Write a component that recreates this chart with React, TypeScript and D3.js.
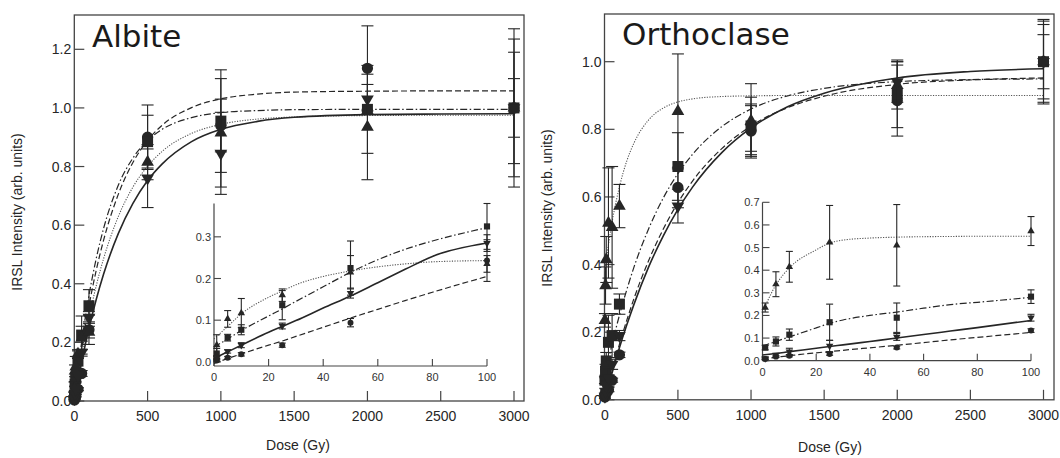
import React from 'react';
import * as d3 from 'd3';

// ---------- data ----------
const doses = [1, 5, 10, 25, 50, 100, 500, 1000, 2000, 3000];

// Albite measured points
const albCircle = [0.003, 0.010, 0.018, 0.040, 0.094, 0.243, 0.900, 0.940, 1.135, 1.000];
const albCircleErr = [0.003, 0.003, 0.004, 0.005, 0.010, 0.050, 0.110, 0.090, 0.145, 0.235];
const albSquare = [0.020, 0.058, 0.077, 0.136, 0.225, 0.325, 0.885, 0.955, 0.995, 1.000];
const albSquareErr = [0.012, 0.008, 0.012, 0.035, 0.065, 0.055, 0.090, 0.175, 0.150, 0.270];
const albUp = [0.040, 0.103, 0.117, 0.160, 0.215, 0.235, 0.815, 0.915, 0.935, 1.000];
const albUpErr = [0.025, 0.020, 0.035, 0.015, 0.040, 0.020, 0.060, 0.185, 0.180, 0.190];
const albDown = [0.008, 0.025, 0.040, 0.086, 0.165, 0.285, 0.760, 0.845, 1.030, 1.000];
const albDownErr = [0.004, 0.004, 0.006, 0.007, 0.012, 0.020, 0.100, 0.140, 0.050, 0.100];

// Orthoclase measured points
const ortCircle = [0.008, 0.018, 0.022, 0.030, 0.058, 0.133, 0.628, 0.795, 0.885, 1.000];
const ortCircleErr = [0.003, 0.004, 0.005, 0.006, 0.006, 0.008, 0.060, 0.075, 0.105, 0.110];
const ortSquare = [0.058, 0.085, 0.115, 0.170, 0.190, 0.283, 0.690, 0.810, 0.905, 1.000];
const ortSquareErr = [0.010, 0.020, 0.025, 0.080, 0.065, 0.030, 0.100, 0.085, 0.100, 0.120];
const ortUp = [0.235, 0.338, 0.415, 0.523, 0.510, 0.573, 0.853, 0.825, 0.930, 1.000];
const ortUpErr = [0.020, 0.055, 0.068, 0.163, 0.180, 0.064, 0.170, 0.110, 0.070, 0.125];
const ortDown = [0.010, 0.025, 0.040, 0.065, 0.105, 0.190, 0.573, 0.805, 0.940, 1.000];
const ortDownErr = [0.005, 0.008, 0.015, 0.025, 0.015, 0.015, 0.050, 0.070, 0.060, 0.080];

// fitted curves, main panels
const fitDoses = [0, 25, 50, 100, 150, 200, 300, 400, 500, 600, 800, 1000, 1250, 1500, 2000, 2500, 3000];
const albFitSolid = [0, 0.069, 0.133, 0.248, 0.347, 0.433, 0.571, 0.674, 0.752, 0.809, 0.885, 0.927, 0.954, 0.968, 0.977, 0.979, 0.980];
const albFitDashed = [0, 0.093, 0.177, 0.324, 0.447, 0.549, 0.705, 0.814, 0.889, 0.941, 1.001, 1.031, 1.047, 1.054, 1.057, 1.058, 1.058];
const albFitDashDot = [0, 0.105, 0.200, 0.360, 0.487, 0.589, 0.736, 0.829, 0.889, 0.927, 0.967, 0.984, 0.991, 0.994, 0.995, 0.995, 0.995];
const albFitDotted = [0, 0.081, 0.154, 0.284, 0.394, 0.486, 0.629, 0.730, 0.801, 0.852, 0.913, 0.944, 0.962, 0.969, 0.974, 0.975, 0.975];

const ortFitSolid = [0, 0.041, 0.080, 0.154, 0.221, 0.283, 0.393, 0.485, 0.563, 0.629, 0.731, 0.804, 0.867, 0.907, 0.952, 0.971, 0.979];
const ortFitDashed = [0, 0.044, 0.086, 0.164, 0.235, 0.300, 0.412, 0.505, 0.583, 0.647, 0.743, 0.810, 0.864, 0.898, 0.933, 0.946, 0.952];
const ortFitDashDot = [0.070, 0.119, 0.165, 0.250, 0.325, 0.393, 0.506, 0.597, 0.669, 0.726, 0.808, 0.860, 0.899, 0.921, 0.941, 0.947, 0.949];
const ortFitDotted = [0.380, 0.459, 0.526, 0.630, 0.706, 0.760, 0.828, 0.863, 0.881, 0.890, 0.897, 0.899, 0.900, 0.900, 0.900, 0.900, 0.900];

// fitted curves, insets
const insetDoses = [0, 5, 10, 20, 25, 30, 40, 50, 60, 70, 80, 100];
const albInDotted = [0.055, 0.085, 0.115, 0.155, 0.170, 0.185, 0.205, 0.218, 0.228, 0.235, 0.240, 0.243];
const albInDashDot = [0.035, 0.055, 0.075, 0.110, 0.127, 0.145, 0.180, 0.215, 0.245, 0.270, 0.290, 0.322];
const albInSolid = [0.008, 0.024, 0.040, 0.071, 0.085, 0.099, 0.129, 0.158, 0.190, 0.222, 0.253, 0.285];
const albInDashed = [-0.004, 0.008, 0.019, 0.040, 0.050, 0.061, 0.083, 0.105, 0.126, 0.147, 0.167, 0.205];

const ortInDotted = [0.215, 0.335, 0.410, 0.490, 0.520, 0.533, 0.542, 0.546, 0.548, 0.549, 0.550, 0.550];
const ortInDashDot = [0.065, 0.085, 0.105, 0.145, 0.165, 0.180, 0.200, 0.215, 0.232, 0.248, 0.258, 0.280];
const ortInSolid = [0.025, 0.032, 0.040, 0.055, 0.063, 0.070, 0.085, 0.100, 0.116, 0.131, 0.146, 0.178];
const ortInDashed = [0.008, 0.015, 0.022, 0.035, 0.040, 0.046, 0.057, 0.068, 0.080, 0.092, 0.103, 0.125];

const mainXTicks = [0, 500, 1000, 1500, 2000, 2500, 3000];
const albYTicks = [0, 0.2, 0.4, 0.6, 0.8, 1.0, 1.2];
const ortYTicks = [0, 0.2, 0.4, 0.6, 0.8, 1.0];
const insetXTicks = [0, 20, 40, 60, 80, 100];
const albInsetYTicks = [0, 0.1, 0.2, 0.3];
const ortInsetYTicks = [0, 0.1, 0.2, 0.3, 0.4, 0.5, 0.6, 0.7];

// ---------- styling ----------
type Sym = 'circle' | 'square' | 'up' | 'down';
type Dash = 'solid' | 'dashed' | 'dashdot' | 'dotted';
const INK = '#262626';
const AX = '#444';
const FONT = '"Liberation Sans", Arial, sans-serif';

const dashStyle: Record<Dash, { da?: string; w: number; c: string }> = {
  solid: { w: 1.6, c: INK },
  dashed: { da: '6,3', w: 1.2, c: INK },
  dashdot: { da: '7,2.5,1.5,2.5', w: 1.2, c: INK },
  dotted: { da: '1.2,1.4', w: 1.1, c: '#555' },
};

function symPath(s: Sym, size: number) {
  const t = s === 'circle' ? d3.symbolCircle : s === 'square' ? d3.symbolSquare : d3.symbolTriangle;
  return d3.symbol(t, size)() as string;
}

interface Series {
  sym: Sym;
  vals: number[];
  errs: number[];
  fit: number[];
  inFit: number[];
  dash: Dash;
}

interface PanelCfg {
  title: string;
  titleX: number;
  titleY: number;
  frame: { l: number; t: number; r: number; b: number };
  x: d3.ScaleLinear<number, number>;
  y: d3.ScaleLinear<number, number>;
  yTicks: number[];
  yLabelX: number;
  yLabelY: number;
  xLabelX: number;
  xLabelY: number;
  ix: d3.ScaleLinear<number, number>;
  iy: d3.ScaleLinear<number, number>;
  iyTicks: number[];
  iyTop: number;
  series: Series[];
}

const symSizeMain: Record<Sym, number> = { circle: 100, square: 121, up: 70, down: 70 };
const symSizeInset: Record<Sym, number> = { circle: 28, square: 38, up: 24, down: 24 };

function Marks({ s, x, y, sizes, cap, maxDose }: { s: Series; x: any; y: any; sizes: Record<Sym, number>; cap: number; maxDose: number }) {
  const d = symPath(s.sym, sizes[s.sym]);
  return (
    <g>
      {doses.map((dose, i) => {
        if (dose > maxDose) return null;
        const cx = x(dose);
        const v = s.vals[i];
        const e = s.errs[i];
        const y1 = y(v - e);
        const y2 = y(v + e);
        return (
          <g key={'e' + i} stroke={INK} strokeWidth={1.1}>
            <line x1={cx} x2={cx} y1={y1} y2={y2} />
            <line x1={cx - cap / 2} x2={cx + cap / 2} y1={y1} y2={y1} />
            <line x1={cx - cap / 2} x2={cx + cap / 2} y1={y2} y2={y2} />
          </g>
        );
      })}
      {doses.map((dose, i) => {
        if (dose > maxDose) return null;
        const cx = x(dose);
        const cy = y(s.vals[i]);
        const rot = s.sym === 'down' ? ' rotate(180)' : '';
        return <path key={'m' + i} d={d} transform={`translate(${cx},${cy})${rot}`} fill={INK} />;
      })}
    </g>
  );
}

function Curve({ xs, ys, x, y, dash }: { xs: number[]; ys: number[]; x: any; y: any; dash: Dash }) {
  const line = d3
    .line<number>()
    .x((_, i) => x(xs[i]))
    .y((v) => y(v))
    .curve(d3.curveMonotoneX);
  const st = dashStyle[dash];
  return <path d={line(ys) as string} fill="none" stroke={st.c} strokeWidth={st.w} strokeDasharray={st.da} />;
}

function Panel({ c }: { c: PanelCfg }) {
  const f = c.frame;
  const fmt = d3.format('.1f');
  const [ix0, ix1] = c.ix.range();
  const iy0 = c.iy.range()[0];
  return (
    <g>
      {/* frame */}
      <rect x={f.l} y={f.t} width={f.r - f.l} height={f.b - f.t} fill="none" stroke={AX} strokeWidth={1.3} />
      {mainXTicks.map((t) => (
        <g key={'xt' + t}>
          <line x1={c.x(t)} x2={c.x(t)} y1={f.b} y2={f.b - 10} stroke={AX} strokeWidth={1.2} />
          <text x={c.x(t)} y={f.b + 20} textAnchor="middle" fontSize={14} fill={INK} fontFamily={FONT}>
            {t}
          </text>
        </g>
      ))}
      {c.yTicks.map((t) => (
        <g key={'yt' + t}>
          <line x1={f.l} x2={f.l + 10} y1={c.y(t)} y2={c.y(t)} stroke={AX} strokeWidth={1.2} />
          <text x={f.l - 3} y={c.y(t) + 5} textAnchor="end" fontSize={14} fill={INK} fontFamily={FONT}>
            {fmt(t)}
          </text>
        </g>
      ))}
      <text x={c.xLabelX} y={c.xLabelY} textAnchor="middle" fontSize={14} fill={INK} fontFamily={FONT}>
        Dose (Gy)
      </text>
      <text
        transform={`translate(${c.yLabelX},${c.yLabelY}) rotate(-90)`}
        textAnchor="middle"
        fontSize={14}
        fill={INK}
        fontFamily={FONT}
      >
        IRSL Intensity (arb. units)
      </text>
      <text x={c.titleX} y={c.titleY} fontSize={31} fill="#1a1a1a" fontFamily='"DejaVu Sans", Verdana, sans-serif'>
        {c.title}
      </text>

      {/* main curves */}
      {c.series.map((s, i) => (
        <Curve key={'c' + i} xs={fitDoses} ys={s.fit} x={c.x} y={c.y} dash={s.dash} />
      ))}
      {c.series.map((s, i) => (
        <Marks key={'s' + i} s={s} x={c.x} y={c.y} sizes={symSizeMain} cap={12} maxDose={3000} />
      ))}

      {/* inset */}
      <line x1={ix0} x2={ix1} y1={iy0} y2={iy0} stroke={AX} strokeWidth={1.2} />
      <line x1={ix0} x2={ix0} y1={iy0} y2={c.iyTop} stroke={AX} strokeWidth={1.2} />
      {insetXTicks.map((t) => (
        <g key={'ixt' + t}>
          <line x1={c.ix(t)} x2={c.ix(t)} y1={iy0} y2={iy0 - 7} stroke={AX} strokeWidth={1.1} />
          <text x={c.ix(t)} y={iy0 + 15} textAnchor="middle" fontSize={11} fill="#333" fontFamily={FONT}>
            {t}
          </text>
        </g>
      ))}
      {c.iyTicks.map((t) => (
        <g key={'iyt' + t}>
          <line x1={ix0} x2={ix0 + 7} y1={c.iy(t)} y2={c.iy(t)} stroke={AX} strokeWidth={1.1} />
          <text x={ix0 - 3} y={c.iy(t) + 4} textAnchor="end" fontSize={11} fill="#333" fontFamily={FONT}>
            {fmt(t)}
          </text>
        </g>
      ))}
      {c.series.map((s, i) => (
        <Curve key={'ic' + i} xs={insetDoses} ys={s.inFit} x={c.ix} y={c.iy} dash={s.dash} />
      ))}
      {c.series.map((s, i) => (
        <Marks key={'is' + i} s={s} x={c.ix} y={c.iy} sizes={symSizeInset} cap={7} maxDose={100} />
      ))}
    </g>
  );
}

export default function App() {
  const albite: PanelCfg = {
    title: 'Albite',
    titleX: 92,
    titleY: 47,
    frame: { l: 74.3, t: 15, r: 524, b: 401 },
    x: d3.scaleLinear().domain([0, 3000]).range([74.3, 514]),
    y: d3.scaleLinear().domain([0, 1.2]).range([401, 49.3]),
    yTicks: albYTicks,
    yLabelX: 22,
    yLabelY: 212,
    xLabelX: 298,
    xLabelY: 450,
    ix: d3.scaleLinear().domain([0, 100]).range([214, 487]),
    iy: d3.scaleLinear().domain([-0.01, 0.38]).range([366, 203.5]),
    iyTicks: albInsetYTicks,
    iyTop: 203.5,
    series: [
      { sym: 'circle', vals: albCircle, errs: albCircleErr, fit: albFitDashed, inFit: albInDashed, dash: 'dashed' },
      { sym: 'square', vals: albSquare, errs: albSquareErr, fit: albFitDashDot, inFit: albInDashDot, dash: 'dashdot' },
      { sym: 'up', vals: albUp, errs: albUpErr, fit: albFitDotted, inFit: albInDotted, dash: 'dotted' },
      { sym: 'down', vals: albDown, errs: albDownErr, fit: albFitSolid, inFit: albInSolid, dash: 'solid' },
    ],
  };
  const orthoclase: PanelCfg = {
    title: 'Orthoclase',
    titleX: 622,
    titleY: 45,
    frame: { l: 604.5, t: 14, r: 1054, b: 399.8 },
    x: d3.scaleLinear().domain([0, 3000]).range([604.8, 1043.5]),
    y: d3.scaleLinear().domain([0, 1]).range([399.8, 61.7]),
    yTicks: ortYTicks,
    yLabelX: 552,
    yLabelY: 208,
    xLabelX: 830,
    xLabelY: 452,
    ix: d3.scaleLinear().domain([0, 100]).range([762.5, 1031]),
    iy: d3.scaleLinear().domain([0, 0.7]).range([360.7, 202.3]),
    iyTicks: ortInsetYTicks,
    iyTop: 202.3,
    series: [
      { sym: 'circle', vals: ortCircle, errs: ortCircleErr, fit: ortFitDashed, inFit: ortInDashed, dash: 'dashed' },
      { sym: 'square', vals: ortSquare, errs: ortSquareErr, fit: ortFitDashDot, inFit: ortInDashDot, dash: 'dashdot' },
      { sym: 'up', vals: ortUp, errs: ortUpErr, fit: ortFitDotted, inFit: ortInDotted, dash: 'dotted' },
      { sym: 'down', vals: ortDown, errs: ortDownErr, fit: ortFitSolid, inFit: ortInSolid, dash: 'solid' },
    ],
  };
  return (
    <svg width={1060} height={458} style={{ position: 'absolute', left: 0, top: 0, background: '#fff' }}>
      <rect x={0} y={0} width={1060} height={458} fill="#fff" />
      <Panel c={albite} />
      <Panel c={orthoclase} />
    </svg>
  );
}
